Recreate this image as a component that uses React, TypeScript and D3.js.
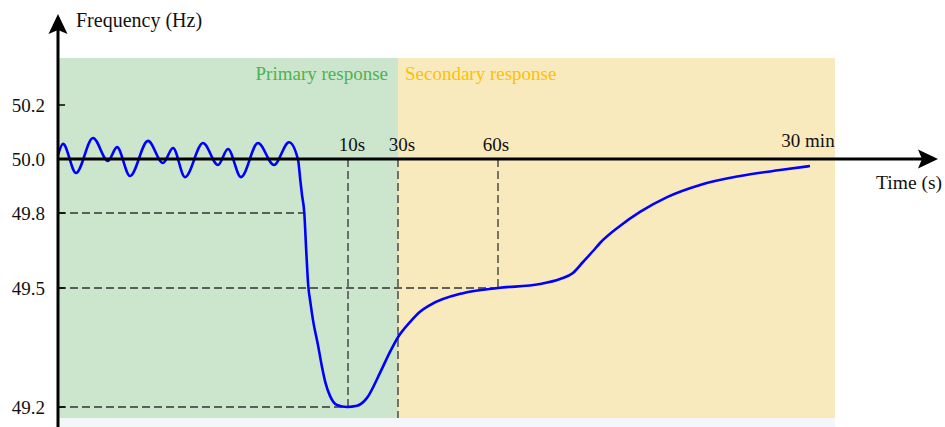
import React from 'react';
import * as d3 from 'd3';

// schematic axes: both are piecewise, like the drawing
const timeKnots = [-24, 0, 10, 30, 60, 1800];
const freqKnots = [49.2, 49.5, 49.8, 50.0, 50.2];

const freqTicks = [50.2, 50.0, 49.8, 49.5, 49.2];
const timeTicks = [10, 30, 60, 1800];
const timeTickLabels = ['10s', '30s', '60s', '30 min'];

// frequency trace (time in s, frequency in Hz)
const curveTime = [
  -24.0, -23.5, -22.2, -20.5, -19.0, -18.1, -16.8, -15.0, -13.5, -12.5, -11.3,
  -9.5, -8.0, -7.0, -5.7, -4.0, -2.4, -0.9,
  0.0, 0.46, 0.8, 1.26, 1.64, 2.04, 2.5, 3.0, 4.0, 4.8, 5.5, 6.4, 7.8, 9.8, 13.6, 17.6, 22.8, 26.8, 30,
  33.6, 36.6, 39.6, 49.5, 60, 294, 406, 478, 534, 590, 629, 740, 852, 1003, 1187, 1410, 1633, 1800,
];
const curveFreq = [
  50.015, 50.056, 49.948, 50.078, 49.993, 50.044, 49.937, 50.067, 49.985, 50.041, 49.933,
  50.059, 49.978, 50.037, 49.933, 50.059, 49.978, 50.062,
  49.998, 49.922, 49.867, 49.8, 49.652, 49.512, 49.462, 49.419, 49.356, 49.301, 49.261, 49.228, 49.205, 49.2, 49.203, 49.223, 49.286, 49.339, 49.376,
  49.414, 49.44, 49.457, 49.487, 49.5, 49.516, 49.536, 49.56, 49.604, 49.648, 49.68, 49.748, 49.804, 49.859, 49.904, 49.937, 49.959, 49.974,
];

// dashed guide lines
const hGuides = [
  { f: 49.8, t: 1.26 },
  { f: 49.5, t: 60 },
  { f: 49.2, t: 10 },
];
const vGuides = [
  { t: 10, f: 49.2 },
  { t: 30, f: null },
  { t: 60, f: 49.5 },
];

const W = 945;
const H = 427;
const top = 58;
const bottom = 418;
const regionEnd = 835;
const serif = '"Liberation Serif", "Times New Roman", serif';

export default function App() {
  const x = d3.scaleLinear().domain(timeKnots).range([58, 298, 348, 398, 498, 810]);
  const y = d3.scaleLinear().domain(freqKnots).range([407, 288, 213, 159, 105]);

  const x0 = x(timeKnots[0]);
  const y0 = y(50.0);

  const pts: [number, number][] = curveTime.map((t, i) => [t, curveFreq[i]]);
  const line = d3
    .line<[number, number]>()
    .x(d => x(d[0]))
    .y(d => y(d[1]))
    .curve(d3.curveMonotoneX);

  return (
    <svg width={W} height={H} style={{ position: 'absolute', left: 0, top: 0, background: '#fff' }}>
      {/* response regions */}
      <rect x={x0} y={top} width={x(30) - x0} height={bottom - top} fill="#cce6cd" />
      <rect x={x(30)} y={top} width={regionEnd - x(30)} height={bottom - top} fill="#f9eabd" />
      <rect x={x0} y={bottom} width={regionEnd - x0} height={H - bottom} fill="#f3f7f9" />

      <text x={388} y={80} textAnchor="end" fontFamily={serif} fontSize={19} fill="#4fb24f">
        Primary response
      </text>
      <text x={405} y={80} fontFamily={serif} fontSize={19} fill="#ffc000">
        Secondary response
      </text>

      {/* guides */}
      <g stroke="#333" strokeWidth={1.3} strokeDasharray="8,4" fill="none">
        {hGuides.map((g, i) => (
          <line key={'h' + i} x1={x0} x2={x(g.t)} y1={y(g.f)} y2={y(g.f)} />
        ))}
        {vGuides.map((g, i) => (
          <line key={'v' + i} x1={x(g.t)} x2={x(g.t)} y1={y0} y2={g.f === null ? bottom : y(g.f)} />
        ))}
      </g>

      {/* trace */}
      <path d={line(pts) || ''} fill="none" stroke="#0000ff" strokeWidth={2.6} />

      {/* y axis */}
      <line x1={x0} x2={x0} y1={H} y2={30} stroke="#000" strokeWidth={3} />
      <path d={`M${x0},14 L${x0 - 9.5},34 L${x0},30 L${x0 + 9.5},34 Z`} fill="#000" />
      <text x={76} y={27} fontFamily={serif} fontSize={20} fill="#111">
        Frequency (Hz)
      </text>
      {freqTicks.map(f => (
        <g key={f}>
          <line x1={x0} x2={x0 + 7} y1={y(f)} y2={y(f)} stroke="#000" strokeWidth={1.5} />
          <text x={45} y={y(f)} dy="0.35em" textAnchor="end" fontFamily={serif} fontSize={19} fill="#111">
            {f.toFixed(1)}
          </text>
        </g>
      ))}

      {/* x axis */}
      <line x1={x0} x2={922} y1={y0} y2={y0} stroke="#000" strokeWidth={3} />
      <path d={`M938,${y0} L918,${y0 - 9.5} L922,${y0} L918,${y0 + 9.5} Z`} fill="#000" />
      <text x={942} y={189} textAnchor="end" fontFamily={serif} fontSize={19.5} fill="#111">
        Time (s)
      </text>
      {timeTicks.map((t, i) => (
        <text
          key={t}
          x={x(t)}
          dx={i < 2 ? 4 : -2}
          y={i === 3 ? 147 : 151}
          textAnchor="middle"
          fontFamily={serif}
          fontSize={19}
          fill="#111"
        >
          {timeTickLabels[i]}
        </text>
      ))}
    </svg>
  );
}
